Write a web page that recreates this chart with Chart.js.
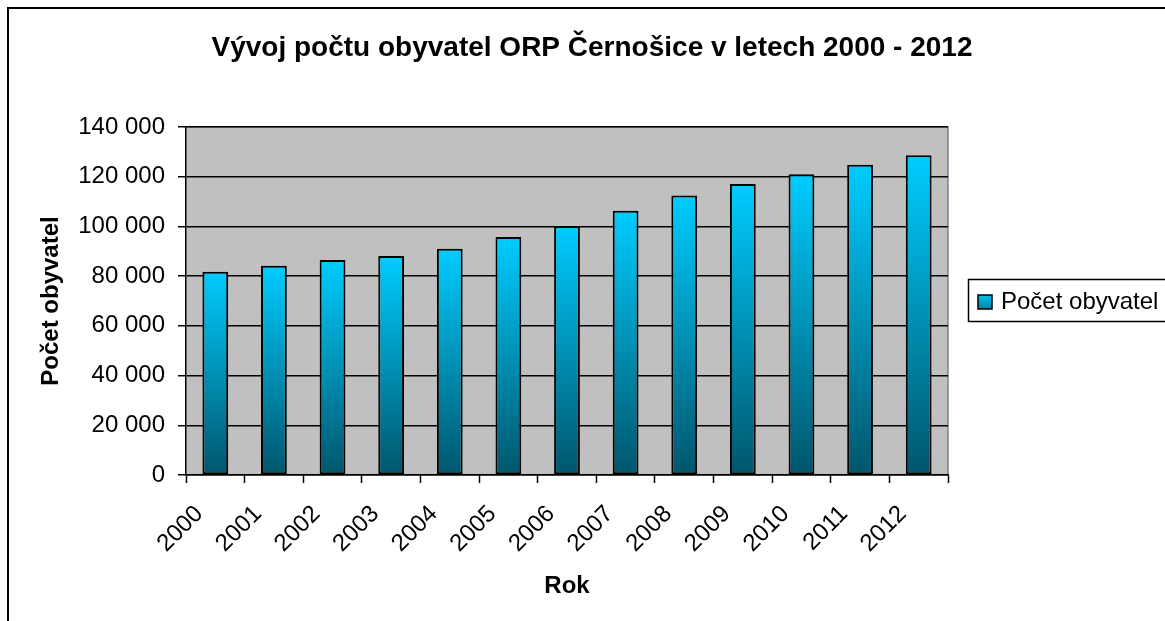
<!DOCTYPE html>
<html>
<head>
<meta charset="utf-8">
<script src="https://cdn.jsdelivr.net/npm/chart.js@4/dist/chart.umd.min.js"></script>
<style>
  body { margin: 0; background: #fff; }
  #wrap { width: 1165px; height: 621px; }
</style>
</head>
<body>
<div id="wrap"><canvas id="bar-chart" width="1165" height="621"></canvas></div>
<script>
var years = ["2000", "2001", "2002", "2003", "2004", "2005", "2006",
             "2007", "2008", "2009", "2010", "2011", "2012"];
var obyvatel = [81800, 84200, 86500, 88100, 91050, 95750, 100200,
                106350, 112400, 117100, 121000, 124850, 128650];
var yTicks = [0, 20000, 40000, 60000, 80000, 100000, 120000, 140000];
var nadpis = "Vývoj počtu obyvatel ORP Černošice v letech 2000 - 2012";

var FONT = "'Liberation Sans', Arial, sans-serif";

function spaced(v) {
  return String(v).replace(/\B(?=(\d{3})+(?!\d))/g, " ");
}

function barGradient(ctx, top, bottom) {
  var g = ctx.createLinearGradient(0, top, 0, bottom);
  g.addColorStop(0, "#00ccff");
  g.addColorStop(1, "#00566c");
  return g;
}

// grey plot area, outer frame and the title across the whole sheet
var plotBackground = {
  id: "plotBackground",
  beforeDraw: function (chart) {
    var c = chart.ctx, a = chart.chartArea;
    c.save();
    c.fillStyle = "#c0c0c0";
    c.fillRect(a.left, a.top, a.right - a.left, a.bottom - a.top);
    c.strokeStyle = "#808080";
    c.lineWidth = 1.5;
    c.beginPath();
    c.moveTo(a.left, a.top);
    c.lineTo(a.right, a.top);
    c.lineTo(a.right, a.bottom);
    c.stroke();
    c.strokeStyle = "#000";
    c.lineWidth = 2;
    c.strokeRect(8, 8, 1300, 800);
    c.fillStyle = "#000";
    c.font = "bold 28px " + FONT;
    c.textAlign = "center";
    c.textBaseline = "middle";
    c.fillText(nadpis, 592, 48);
    c.restore();
  }
};

// legend box on the right, partly outside the canvas
var boxLegend = {
  id: "boxLegend",
  afterDraw: function (chart) {
    var c = chart.ctx;
    var ds = chart.data.datasets[0];
    c.save();
    c.strokeStyle = "#000";
    c.lineWidth = 1.5;
    c.strokeRect(968.5, 279.5, 300, 42);
    c.fillStyle = barGradient(c, 292, 320);
    c.fillRect(978, 295, 14, 14);
    c.strokeRect(978, 295, 14, 14);
    c.fillStyle = "#000";
    c.font = "24px " + FONT;
    c.textBaseline = "middle";
    c.fillText(ds.label, 1001, 302);
    c.restore();
  }
};

function populationChart() {
  new Chart(document.getElementById("bar-chart"), {
    type: "bar",
    data: {
      labels: years,
      datasets: [
        {
          label: "Počet obyvatel",
          data: obyvatel,
          backgroundColor: function (ctx) {
            var chart = ctx.chart;
            if (!chart.chartArea || ctx.type !== "data") return "#00ccff";
            var y = chart.scales.y;
            return barGradient(chart.ctx, y.getPixelForValue(ctx.raw), y.getPixelForValue(0));
          },
          borderColor: "#000",
          borderWidth: 2,
          borderSkipped: false,
          barPercentage: 0.44,
          categoryPercentage: 1,
        },
      ],
    },
    options: {
      responsive: false,
      animation: false,
      layout: { padding: { left: 0, right: 217, top: 127, bottom: 0 } },
      plugins: {
        legend: { display: false },
        tooltip: { enabled: false },
        title: { display: false },
      },
      scales: {
        x: {
          afterFit: function (scale) { scale.height = 146; },
          grid: {
            display: true,
            offset: true,
            drawOnChartArea: false,
            tickLength: 8,
            tickColor: "#000",
            tickWidth: 1.5,
          },
          border: { color: "#000", width: 1.5 },
          ticks: {
            color: "#000",
            font: { family: FONT, size: 24 },
            minRotation: 45,
            maxRotation: 45,
            autoSkip: false,
            padding: 17,
            labelOffset: -16,
          },
          title: {
            display: true,
            text: "Rok",
            color: "#000",
            font: { family: FONT, size: 24, weight: "bold" },
            padding: { top: 0, bottom: 20 },
          },
        },
        y: {
          min: 0,
          max: 140000,
          afterFit: function (scale) { scale.width = 186; },
          afterBuildTicks: function (scale) {
            scale.ticks = yTicks.map(function (v) { return { value: v }; });
          },
          grid: {
            color: "#000",
            lineWidth: 1.5,
            tickLength: 8,
            tickColor: "#000",
          },
          border: { color: "#000", width: 1.5 },
          ticks: {
            color: "#000",
            font: { family: FONT, size: 24 },
            padding: 13,
            callback: function (v) { return spaced(v); },
          },
          title: {
            display: true,
            text: "Počet obyvatel",
            color: "#000",
            font: { family: FONT, size: 24, weight: "bold" },
            padding: { top: 37, bottom: 0 },
          },
        },
      },
    },
    plugins: [plotBackground, boxLegend],
  });
}

document.addEventListener("DOMContentLoaded", function () {
  populationChart();
});
</script>
</body>
</html>
